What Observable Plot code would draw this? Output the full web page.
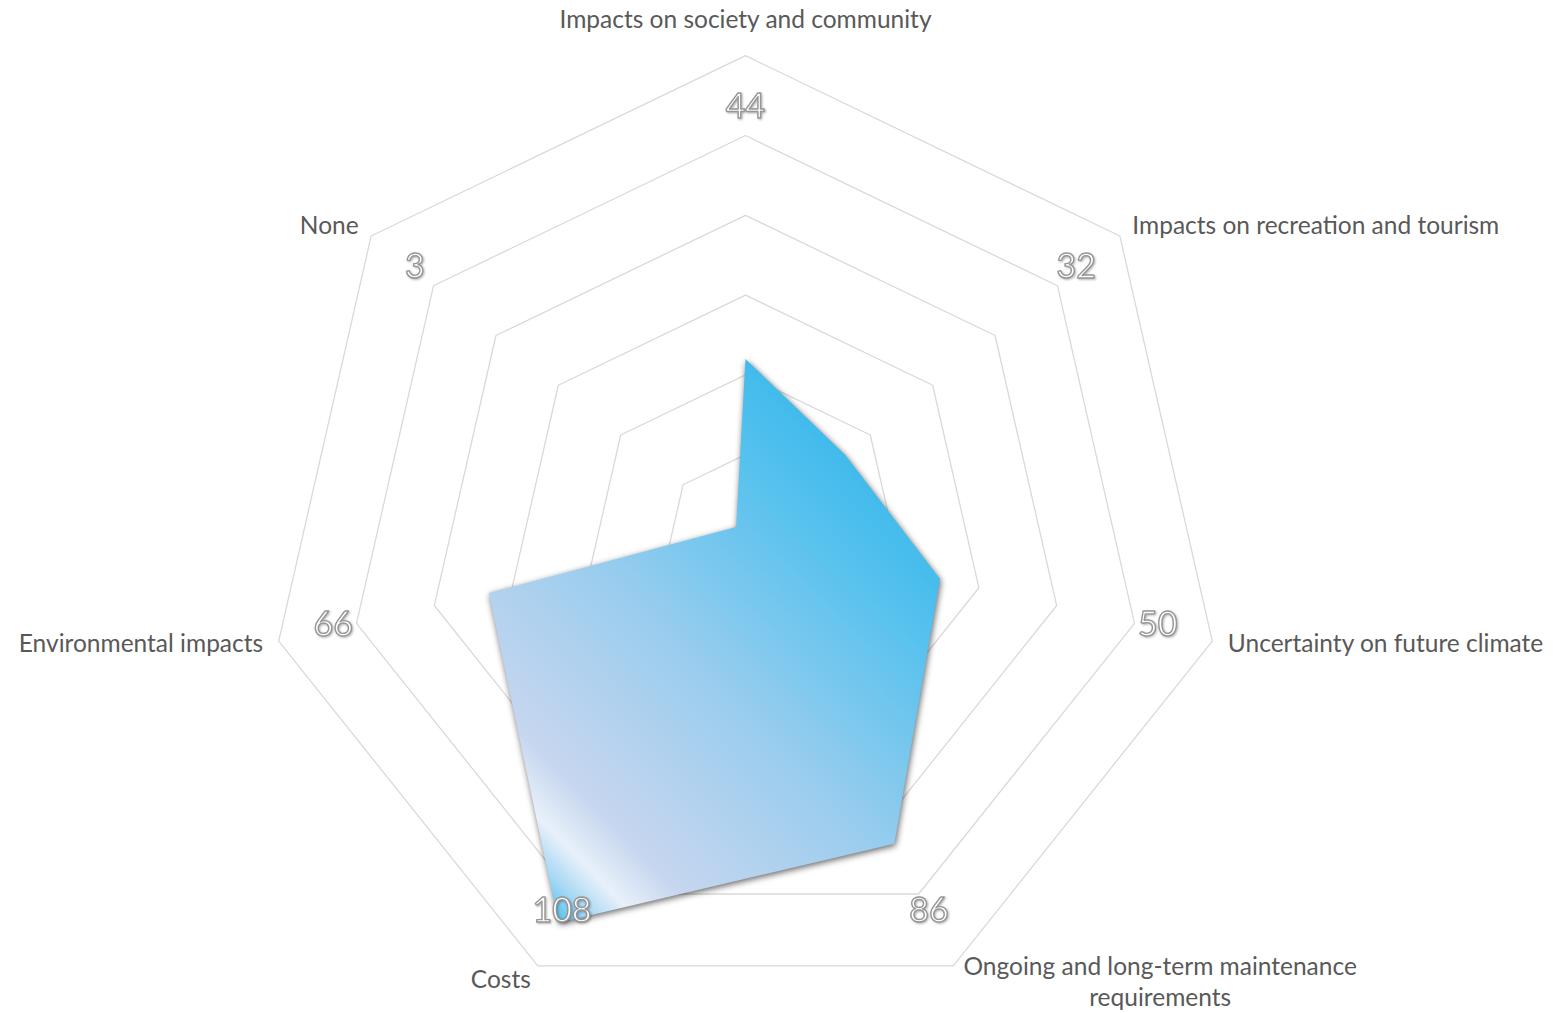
<!DOCTYPE html>
<html>
<head>
<meta charset="utf-8">
<script src="https://cdn.jsdelivr.net/npm/d3@7"></script>
<script src="https://cdn.jsdelivr.net/npm/@observablehq/plot@0.6"></script>
<style>
  html, body { margin: 0; padding: 0; background: #ffffff; }
  #chart { width: 1564px; height: 1013px; overflow: hidden; }
</style>
</head>
<body>
<div id="chart"></div>
<script>
// ---- data ----
const categories = [
  "Impacts on society and community",
  "Impacts on recreation and tourism",
  "Uncertainty on future climate",
  "Ongoing and long-term maintenance\nrequirements",
  "Costs",
  "Environmental impacts",
  "None"
];
const values = [44, 32, 50, 86, 108, 66, 3];
const ringLevels = [20, 40, 60, 80, 100, 120];

// ---- geometry helpers (scale units) ----
const W = 1564, H = 1013;
const cx = 745, cy = 534, pxPerUnit = 3.99;
const n = categories.length;
const ang = i => Math.PI / 2 - i * 2 * Math.PI / n; // y up
const px = (r, i) => r * Math.cos(ang(i));
const py = (r, i) => r * Math.sin(ang(i));

const series = values.map((v, i) => ({x: px(v, i), y: py(v, i), cat: categories[i], v}));
const rings = ringLevels.flatMap(l => categories.map((c, i) => ({level: l, x: px(l, i), y: py(l, i)})));
const valueLabelR = 106;
const valueLabels = values.map((v, i) => ({x: px(valueLabelR, i), y: py(valueLabelR, i), text: String(v)}));
const catLabels = categories.map((c, i) => {
  const ca = Math.cos(ang(i));
  const top = Math.abs(ca) < 0.1;
  const r = top ? 129 : 124;
  return {x: px(r, i), y: py(r, i), text: c, anchor: top ? "middle" : ca > 0 ? "start" : "end", multi: c.includes("\n")};
});

const labelFont = 24.5;
const plot = Plot.plot({
  width: W, height: H,
  margin: 0,
  x: {domain: [-cx / pxPerUnit, (W - cx) / pxPerUnit], axis: null},
  y: {domain: [-(H - cy) / pxPerUnit, cy / pxPerUnit], axis: null},
  style: {fontFamily: "Lato, 'Open Sans', sans-serif", background: "#ffffff", overflow: "visible"},
  marks: [
    Plot.line(rings, {x: "x", y: "y", z: "level", curve: "linear-closed", stroke: "#d9d9d9", strokeWidth: 1.3}),
    Plot.line(series, {x: "x", y: "y", curve: "linear-closed", fill: "url(#radarGrad)", stroke: "none"}),
    Plot.text(catLabels.filter(d => d.anchor === "start" && !d.multi), {x: "x", y: "y", text: "text", textAnchor: "start", fontSize: labelFont, fill: "#595959"}),
    Plot.text(catLabels.filter(d => d.anchor === "end"), {x: "x", y: "y", text: "text", textAnchor: "end", fontSize: labelFont, fill: "#595959"}),
    Plot.text(catLabels.filter(d => d.anchor === "middle"), {x: "x", y: "y", text: "text", textAnchor: "middle", fontSize: labelFont, fill: "#595959"}),
    Plot.text(catLabels.filter(d => d.multi), {x: "x", y: "y", text: "text", textAnchor: "middle", dx: 200, lineHeight: 1.27, fontSize: labelFont, fill: "#595959"}),
    Plot.text(valueLabels, {x: "x", y: "y", dy: -4, text: "text", fontSize: 34, fill: "#ffffff", stroke: "#969696", strokeWidth: 1.4, paintOrder: "normal"})
  ]
});

const svg = d3.select(plot.tagName === "svg" ? plot : plot.querySelector("svg"));
const defs = svg.insert("defs", ":first-child");
const g = defs.append("linearGradient").attr("id", "radarGrad")
  .attr("x1", 0.15).attr("y1", 1.0).attr("x2", 0.9).attr("y2", 0.08);
[
  [0.0, "#4fc1ef"],
  [0.05, "#a9d9f4"],
  [0.1, "#e8f0fa"],
  [0.18, "#c6d6ef"],
  [0.45, "#9ccdee"],
  [0.75, "#58c2ee"],
  [1.0, "#2bb5eb"]
].forEach(([o, c]) => g.append("stop").attr("offset", o).attr("stop-color", c));

svg.selectAll("g").filter(function () { const f = this.getAttribute("fill"); return f && f.startsWith("url"); })
  .style("filter", "drop-shadow(1px 2px 3px rgba(0,0,0,0.6))");
svg.selectAll("g").filter(function () { return this.getAttribute("stroke") === "#969696"; })
  .style("filter", "drop-shadow(1px 1.5px 1.2px rgba(0,0,0,0.3))");

document.getElementById("chart").appendChild(plot);
</script>
</body>
</html>
